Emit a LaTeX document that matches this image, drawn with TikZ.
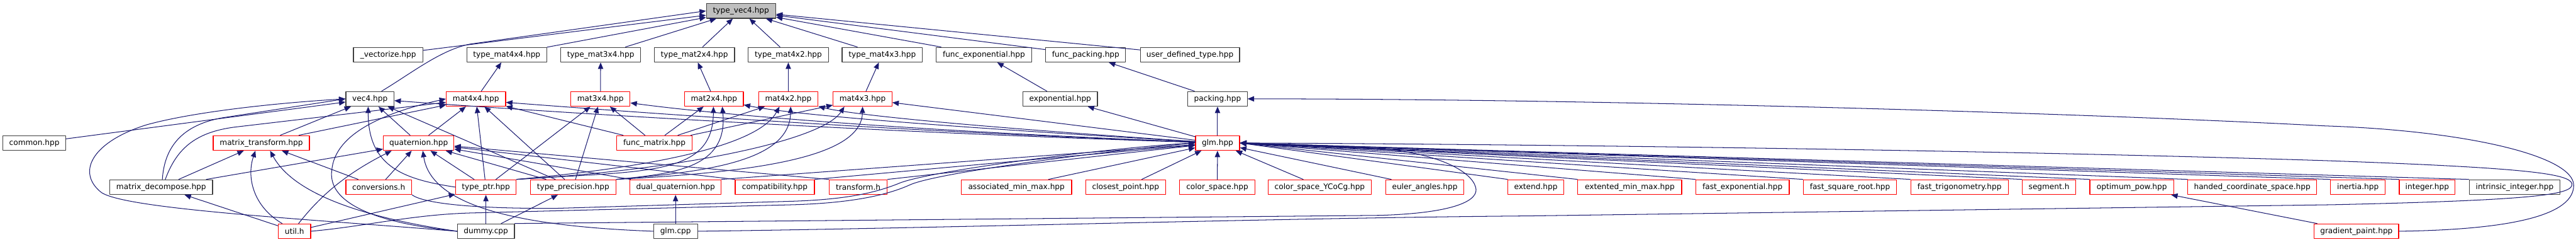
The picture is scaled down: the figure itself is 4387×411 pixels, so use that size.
\documentclass[tikz,border=0pt]{standalone}
\usepackage{fontspec}
\setmainfont{DejaVu Sans}
\usetikzlibrary{arrows.meta}
\definecolor{bleu}{HTML}{191970}
\definecolor{cadre}{HTML}{404040}
\definecolor{rouge}{HTML}{FF0000}
\definecolor{gris}{HTML}{BFBFBF}

\begin{document}
\begin{tikzpicture}[x=1pt,y=-1pt,line cap=round,line join=round,>={Triangle[length=11pt,width=9pt]},
	fich/.style={draw=cadre,fill=white,line width=1.3pt,inner sep=0pt,minimum height=25pt,font=\fontsize{13}{15}\selectfont},
	coupe/.style={fich,draw=rouge},
	racine/.style={fich,fill=gris},
	dep/.style={draw=bleu,line width=1.1pt,->}]
		\useasboundingbox (0,0) rectangle (4387,411);
		% rang 1
		\node[racine, minimum width=118pt] (tv4) at (1262,18.5) {type\_vec4.hpp};
		% rang 2
		\node[fich, minimum width=118pt] (vectorize) at (661,93) {\_vectorize.hpp};
		\node[fich, minimum width=136pt] (tm44) at (863,93) {type\_mat4x4.hpp};
		\node[fich, minimum width=136pt] (tm34) at (1023,93) {type\_mat3x4.hpp};
		\node[fich, minimum width=137pt] (tm24) at (1182.5,93) {type\_mat2x4.hpp};
		\node[fich, minimum width=137pt] (tm42) at (1342.5,93) {type\_mat4x2.hpp};
		\node[fich, minimum width=137pt] (tm43) at (1502.5,93) {type\_mat4x3.hpp};
		\node[fich, minimum width=163pt] (fexp) at (1675.5,93) {func\_exponential.hpp};
		\node[fich, minimum width=136pt] (fpack) at (1849,93) {func\_packing.hpp};
		\node[fich, minimum width=169pt] (udt) at (2026.5,93) {user\_defined\_type.hpp};
		% rang 3
		\node[fich, minimum width=82pt] (vec4) at (630,168) {vec4.hpp};
		\node[coupe, minimum width=101pt] (m44) at (810.5,168) {mat4x4.hpp};
		\node[coupe, minimum width=101pt] (m34) at (1022.5,168) {mat3x4.hpp};
		\node[coupe, minimum width=100pt] (m24) at (1216,168) {mat2x4.hpp};
		\node[coupe, minimum width=101pt] (m42) at (1342.5,168) {mat4x2.hpp};
		\node[coupe, minimum width=100pt] (m43) at (1469,168) {mat4x3.hpp};
		\node[fich, minimum width=127pt] (expo) at (1805.5,168) {exponential.hpp};
		\node[fich, minimum width=101pt] (pack) at (2073.5,168) {packing.hpp};
		% rang 4
		\node[fich, minimum width=107pt] (common) at (58.5,243) {common.hpp};
		\node[coupe, minimum width=164pt] (mtrans) at (445,243) {matrix\_transform.hpp};
		\node[coupe, minimum width=120pt] (quat) at (713,243) {quaternion.hpp};
		\node[coupe, minimum width=129pt] (fmat) at (1114.5,243) {func\_matrix.hpp};
		\node[coupe, minimum width=75pt] (glmh) at (2073.5,243) {glm.hpp};
		% rang 5
		\node[fich, minimum width=175pt] (mdec) at (274.5,318) {matrix\_decompose.hpp};
		\node[coupe, minimum width=112pt] (conv) at (645,318) {conversions.h};
		\node[coupe, minimum width=103pt] (tptr) at (827.5,318) {type\_ptr.hpp};
		\node[coupe, minimum width=146pt] (tprec) at (976,318) {type\_precision.hpp};
		\node[coupe, minimum width=155pt] (dquat) at (1150.5,318) {dual\_quaternion.hpp};
		\node[coupe, minimum width=135pt] (compat) at (1319.5,318) {compatibility.hpp};
		\node[coupe, minimum width=99pt] (trf) at (1461.5,318) {transform.h};
		\node[coupe, minimum width=188pt] (amm) at (1731,318) {associated\_min\_max.hpp};
		\node[coupe, minimum width=136pt] (cpt) at (1917,318) {closest\_point.hpp};
		\node[coupe, minimum width=128pt] (cs) at (2073,318) {color\_space.hpp};
		\node[coupe, minimum width=175pt] (csy) at (2247.5,318) {color\_space\_YCoCg.hpp};
		\node[coupe, minimum width=133pt] (euler) at (2426.5,318) {euler\_angles.hpp};
		\node[coupe, minimum width=95pt] (extend) at (2615.5,318) {extend.hpp};
		\node[coupe, minimum width=177pt] (emm) at (2775.5,318) {extented\_min\_max.hpp};
		\node[coupe, minimum width=159pt] (fexpo) at (2967.5,318) {fast\_exponential.hpp};
		\node[coupe, minimum width=159pt] (fsqrt) at (3150.5,318) {fast\_square\_root.hpp};
		\node[coupe, minimum width=166pt] (ftrig) at (3337,318) {fast\_trigonometry.hpp};
		\node[coupe, minimum width=91pt] (seg) at (3489.5,318) {segment.h};
		\node[coupe, minimum width=143pt] (opow) at (3630.5,318) {optimum\_pow.hpp};
		\node[coupe, minimum width=219pt] (hcs) at (3835.5,318) {handed\_coordinate\_space.hpp};
		\node[coupe, minimum width=93pt] (inertia) at (4015.5,318) {inertia.hpp};
		\node[coupe, minimum width=95pt] (integer) at (4133.5,318) {integer.hpp};
		\node[fich, minimum width=155pt] (intrin) at (4282.5,318) {intrinsic\_integer.hpp};
		% rang 6
		\node[coupe, minimum width=55pt] (util) at (501.5,393) {util.h};
		\node[fich, minimum width=97pt] (dummy) at (827.5,393) {dummy.cpp};
		\node[fich, minimum width=75pt] (glmcpp) at (1150.5,393) {glm.cpp};
		\node[coupe, minimum width=144pt] (grad) at (4013,393) {gradient\_paint.hpp};
		% vers type_vec4
		\draw[dep] (vectorize) -- (tv4);
		\draw[dep] (tm44) -- (tv4);
		\draw[dep] (tm34) -- (tv4);
		\draw[dep] (tm24) -- (tv4);
		\draw[dep] (tm42) -- (tv4);
		\draw[dep] (tm43) -- (tv4);
		\draw[dep] (fexp) -- (tv4);
		\draw[dep] (fpack) -- (tv4);
		\draw[dep] (udt) -- (tv4);
		\draw[dep] ([xshift=20pt]vec4.north) .. controls (700,125) and (750,85) .. (800,75) -- (tv4.west);
		% vers le rang 2
		\draw[dep] (m44) -- (tm44);
		\draw[dep] (m34) -- (tm34);
		\draw[dep] (m24) -- (tm24);
		\draw[dep] (m42) -- (tm42);
		\draw[dep] (m43) -- (tm43);
		\draw[dep] (expo) -- (fexp);
		\draw[dep] (pack) -- (fpack);
		% vers vec4
		\draw[dep] (common) -- (vec4);
		\draw[dep] ([xshift=2pt]mdec.north) .. controls (280,250) and (310,212) .. (380,200) -- (vec4.west);
		\draw[dep] (dummy.west) .. controls (520,372) and (200,355) .. (170,325) .. controls (130,290) and (160,240) .. (250,212) .. controls (330,190) and (470,175) .. (vec4.west);
		\draw[dep] (mtrans) -- (vec4);
		\draw[dep] (quat) -- (vec4);
		\draw[dep] (tptr.west) .. controls (690,305) and (627,285) .. ([xshift=-3pt]vec4.south);
		\draw[dep] (tprec) -- (vec4);
		\draw[dep] (glmh) .. controls (1500,225) and (1000,195) .. (vec4);
		% vers mat4x4
		\draw[dep] (mtrans) -- (m44);
		\draw[dep] ([xshift=7pt]mdec.north) .. controls (300,255) and (330,225) .. (400,216) -- (m44);
		\draw[dep] (dummy.west) .. controls (600,375) and (560,330) .. (565,290) .. controls (570,225) and (660,190) .. (m44.west);
		\draw[dep] (quat) -- (m44);
		\draw[dep] (tptr) -- (m44);
		\draw[dep] (tprec) -- (m44);
		\draw[dep] (fmat) -- (m44);
		\draw[dep] (glmh) .. controls (1500,222) and (1100,192) .. ([yshift=-6pt]m44.east);
		% vers mat3x4
		\draw[dep] (tptr) -- (m34);
		\draw[dep] (tprec) -- (m34);
		\draw[dep] (fmat) -- (m34);
		\draw[dep] (glmh) .. controls (1500,220) and (1200,192) .. (m34);
		% vers mat2x4
		\draw[dep] (fmat) -- (m24);
		\draw[dep] (tptr.north east) .. controls (1100,290) and (1214,300) .. ([xshift=-1pt]m24.south);
		\draw[dep] (tprec.north east) .. controls (1150,295) and (1240,285) .. ([xshift=14pt]m24.south);
		\draw[dep] (glmh) .. controls (1600,215) and (1350,195) .. (m24);
		% vers mat4x2
		\draw[dep] (fmat) -- (m42);
		\draw[dep] (tptr.north east) .. controls (1100,285) and (1290,250) .. ([xshift=-15pt]m42.south);
		\draw[dep] (tprec.north east) .. controls (1200,292) and (1345,275) .. ([xshift=4pt]m42.south);
		\draw[dep] (glmh) .. controls (1650,215) and (1450,195) .. (m42);
		% vers mat4x3
		\draw[dep] (fmat) -- (m43);
		\draw[dep] (tptr.north east) .. controls (1150,290) and (1400,240) .. ([xshift=-31pt]m43.south);
		\draw[dep] (tprec.north east) .. controls (1300,292) and (1467,265) .. (m43.south);
		\draw[dep] (glmh) -- (m43);
		% exponential, packing
		\draw[dep] (glmh) -- (expo);
		\draw[dep] (glmh) -- (pack);
		\draw[dep] (grad.east) .. controls (4300,390) and (4383,360) .. (4383,315) .. controls (4383,265) and (4200,222) .. (3960,214) .. controls (3500,190) and (2700,168) .. (pack.east);
		% vers quaternion
		\draw[dep] (mdec) -- (quat);
		\draw[dep] ([xshift=7pt]util.north) .. controls (540,340) and (580,300) .. ([xshift=-46pt]quat.south);
		\draw[dep] (conv) -- (quat);
		\draw[dep] (tptr) -- (quat);
		\draw[dep] (tprec) -- (quat);
		\draw[dep] (glmcpp.west) .. controls (900,385) and (735,355) .. ([xshift=7pt]quat.south);
		\draw[dep] (dquat) -- (quat);
		\draw[dep] (compat.north west) -- (quat);
		\draw[dep] (trf.north west) -- (quat);
		% vers matrix_transform
		\draw[dep] (mdec) -- (mtrans);
		\draw[dep] ([xshift=-21pt]util.north) .. controls (430,350) and (420,300) .. ([xshift=-10pt]mtrans.south);
		\draw[dep] (dummy.west) .. controls (620,370) and (500,330) .. ([xshift=15pt]mtrans.south);
		\draw[dep] (conv) -- (mtrans);
		% rangs du bas
		\draw[dep] (util) -- (mdec);
		\draw[dep] (util) -- (tptr);
		\draw[dep] (dummy) -- (tptr);
		\draw[dep] (dummy) -- (tprec);
		\draw[dep] (glmcpp) -- (dquat);
		\draw[dep] (grad) -- (opow);
		% vers glm.hpp, par la gauche
		\draw[dep] (util.east) .. controls (620,385) and (700,365) .. (800,362) -- (1350,348) .. controls (1450,345) and (1510,332) .. (1550,314) .. controls (1600,292) and (1900,255) .. (glmh.west);
		\draw[dep] (conv.south east) .. controls (720,345) and (800,355) .. (950,354) -- (1350,342) .. controls (1440,339) and (1490,328) .. (1530,312) .. controls (1580,290) and (1900,250) .. (glmh.west);
		\draw[dep] (dquat.north east) -- (glmh);
		\draw[dep] (compat.north east) -- (glmh);
		\draw[dep] (trf.north east) -- (glmh);
		\draw[dep] ([xshift=-40pt]amm.north east) -- (glmh);
		\draw[dep] (cpt) -- (glmh);
		\draw[dep] (cs) -- (glmh);
		% vers glm.hpp, par la droite
		\draw[dep] ([xshift=60pt]csy.north west) -- (glmh);
		\draw[dep] ([xshift=10pt]euler.north west) -- (glmh);
		\draw[dep] (extend.north west) -- (glmh.east);
		\draw[dep] (emm.north west) -- (glmh.east);
		\draw[dep] (fexpo.north west) -- (glmh.east);
		\draw[dep] (fsqrt.north west) -- (glmh.east);
		\draw[dep] (ftrig.north west) -- (glmh.east);
		\draw[dep] (seg.north west) -- (glmh.east);
		\draw[dep] (opow.north west) -- (glmh.east);
		\draw[dep] (hcs.north west) -- (glmh.east);
		\draw[dep] (inertia.north west) -- (glmh.east);
		\draw[dep] (integer.north west) -- (glmh.east);
		\draw[dep] (intrin.north west) -- (glmh.east);
		% les deux boucles du bas
		\draw[dep] (dummy.north east) -- (2350,366) .. controls (2480,362) and (2520,340) .. (2513,318) .. controls (2505,290) and (2450,265) .. (2380,256) .. controls (2300,248) and (2200,245) .. (glmh.east);
		\draw[dep] (glmcpp.east) .. controls (1600,388) and (2200,370) .. (2600,367) -- (3970,348) .. controls (4330,340) and (4383,330) .. (4380,312) .. controls (4375,295) and (4300,285) .. (3960,273) .. controls (3400,255) and (2600,245) .. (glmh.east);
		\end{tikzpicture}
\end{document}
